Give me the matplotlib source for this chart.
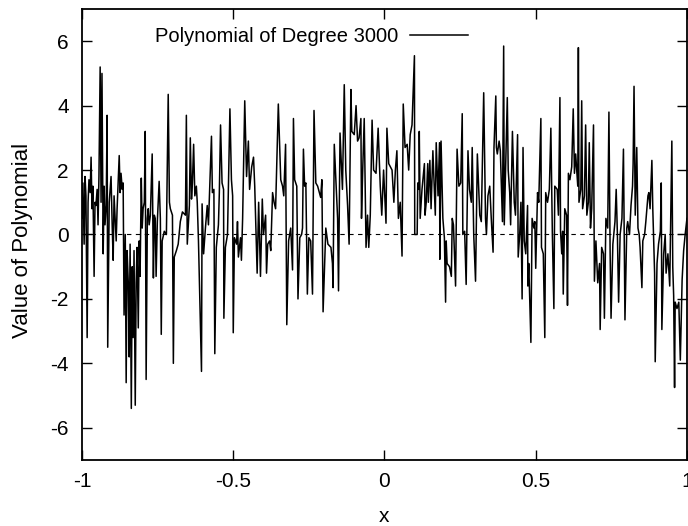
import matplotlib
matplotlib.use("Agg")
import matplotlib.pyplot as plt
import numpy as np

plt.rcParams["font.family"] = ["Liberation Sans", "DejaVu Sans"]
plt.rcParams["axes.unicode_minus"] = False

# values, left to right in six stretches
x_seg1 = [-1.000, -0.997, -0.993, -0.990, -0.987, -0.983, -0.980, -0.977, -0.973, -0.970,
          -0.967, -0.964, -0.960, -0.957, -0.954, -0.950, -0.947, -0.944, -0.940, -0.937,
          -0.934, -0.930, -0.927, -0.924, -0.920, -0.917, -0.915, -0.910, -0.904, -0.900,
          -0.897, -0.894, -0.891, -0.887, -0.884, -0.877, -0.874, -0.871, -0.867, -0.864,
          -0.861, -0.857, -0.854, -0.851, -0.847, -0.844, -0.841, -0.837, -0.834, -0.831,
          -0.828, -0.824, -0.821, -0.818, -0.814, -0.811, -0.808, -0.804, -0.801, -0.798,
          -0.794, -0.791, -0.788, -0.784, -0.781, -0.778, -0.774, -0.768, -0.764, -0.761,
          -0.758, -0.755, -0.751, -0.745, -0.741, -0.738, -0.735, -0.728, -0.721, -0.715,
          -0.711, -0.708, -0.701, -0.698, -0.695, -0.688, -0.682, -0.675, -0.668,
          -0.658, -0.655, -0.652, -0.645, -0.642]
y_seg1 = [0.5, 1.6, -0.3, 1.8, 1.2, -3.2, 1.0, 1.7, 1.3, 2.4,
          0.8, 1.5, -1.3, 1.0, 0.9, 1.4, 0.3, 1.8, 5.2, 1.0,
          5.0, -0.6, 1.5, 0.3, 0.9, 3.7, -3.5, 1.0, 1.8, 0.2,
          -0.8, 1.2, 0.6, -0.2, 0.8, 2.45, 1.3, 1.9, 1.4, 1.6,
          -2.5, 0.0, -4.6, -0.5, -1.5, -3.8, -0.3, -5.4, -1.0, -3.2,
          -0.5, -5.3, -1.5, -0.4, -2.9, -0.2, -1.3, 1.75, 0.2, 0.8,
          1.0, 3.2, -4.5, 0.5, 0.8, 0.3, 0.6, 2.5, -1.35, 0.6,
          0.5, -1.3, 0.4, 1.65, 0.5, -3.1, -0.2, 0.1, 0.0, 4.35,
          1.0, 0.8, 0.6, -4.0, -0.7, -0.5, -0.3, 0.4, 0.7,
          0.6, 3.7, -0.3, 0.9, 3.0]

x_seg2 = [-0.638, -0.635, -0.631, -0.627, -0.622, -0.619, -0.615, -0.605, -0.603, -0.598,
          -0.592, -0.586, -0.582, -0.572, -0.569, -0.564, -0.561, -0.556, -0.549, -0.546,
          -0.542, -0.537, -0.532, -0.531, -0.526, -0.519, -0.511, -0.506, -0.502, -0.500,
          -0.496, -0.489, -0.486, -0.483, -0.476, -0.473, -0.469, -0.462, -0.456, -0.450,
          -0.446, -0.439, -0.433, -0.429, -0.421, -0.416, -0.410, -0.404, -0.400, -0.393,
          -0.390, -0.386, -0.380, -0.376, -0.370, -0.365, -0.360, -0.351, -0.343, -0.337,
          -0.333, -0.327, -0.323, -0.317, -0.310]
y_seg2 = [1.1, 1.6, 2.8, 1.2, 1.5, 1.0, -0.2, -4.25, 0.95, -0.6,
          0.2, 0.9, 0.3, 3.05, 1.3, 1.4, -3.7, -0.4, 0.3, 1.3,
          3.4, 1.6, 1.4, -2.6, -0.4, 0.0, 3.9, 1.7, 1.2, -3.05,
          -0.1, -0.3, 0.4, -0.7, -0.1, -0.8, 0.5, 4.15, 1.8, 2.9,
          1.4, 2.1, 2.4, 1.5, -1.2, 1.0, -1.3, 1.1, 0.0, 0.6,
          -1.2, -0.3, -0.2, -0.5, 1.3, 1.0, 0.8, 4.05, 1.7, 1.5,
          1.2, 2.8, -2.8, -0.2, 0.2]

x_seg3 = [-0.304, -0.301, -0.297, -0.290, -0.286, -0.280, -0.274, -0.271, -0.268, -0.264,
          -0.260, -0.255, -0.250, -0.244, -0.238, -0.233, -0.227, -0.221, -0.211, -0.207,
          -0.203, -0.194, -0.187, -0.177, -0.172, -0.170, -0.166, -0.155, -0.152, -0.147,
          -0.139, -0.133, -0.128, -0.122, -0.117, -0.111, -0.108, -0.100, -0.094, -0.089,
          -0.084, -0.078, -0.076, -0.072, -0.067, -0.061, -0.056, -0.052, -0.047, -0.041,
          -0.036, -0.028, -0.021, -0.014, -0.009, -0.003, 0.005, 0.008, 0.014, 0.025,
          0.031, 0.036, 0.041, 0.046, 0.052]
y_seg3 = [-1.1, 3.6, 1.7, 1.5, -2.0, -0.1, 0.0, 0.2, 2.65, 1.5,
          1.6, -1.85, -0.1, -0.2, -1.85, 3.85, 1.6, 1.5, 1.15, 1.7,
          -2.4, 0.2, -0.3, -0.4, -0.9, -1.65, 2.8, 0.5, -1.75, 3.15,
          1.4, 4.65, 2.0, 0.9, -0.3, 4.5, 3.2, 3.1, 4.0, 2.9,
          3.0, 3.6, 0.5, 2.0, 3.6, -0.4, 0.6, -0.4, 0.6, 3.55,
          2.0, 1.9, 3.3, 1.5, 0.6, 2.0, 0.35, 3.3, 2.2, 2.0,
          1.0, 2.0, 2.6, 0.5, 1.0]

x_seg4 = [0.058, 0.062, 0.068, 0.075, 0.080, 0.085, 0.091, 0.099, 0.100, 0.108,
          0.110, 0.114, 0.115, 0.118, 0.124, 0.132, 0.134, 0.138, 0.143, 0.145,
          0.150, 0.154, 0.160, 0.164, 0.168, 0.171, 0.177, 0.182, 0.183, 0.187,
          0.193, 0.198, 0.202, 0.204, 0.207, 0.215, 0.221, 0.224, 0.228, 0.235,
          0.240, 0.246, 0.252, 0.257, 0.259, 0.265, 0.270, 0.276, 0.281, 0.287,
          0.290, 0.295, 0.301, 0.307, 0.315, 0.320, 0.328, 0.334, 0.337, 0.342,
          0.348, 0.353, 0.359, 0.362, 0.368, 0.370, 0.373, 0.379, 0.383]
y_seg4 = [-0.67, 4.05, 2.7, 2.8, 2.0, 3.1, 3.4, 5.55, 0.0, 0.0,
          1.6, 1.4, 3.2, 0.5, 1.4, 2.2, 0.6, 1.0, 2.2, 1.0,
          2.3, 0.8, 2.6, 1.6, 0.6, 2.85, 1.2, 2.85, -0.77, 2.9,
          0.5, -0.1, -2.1, -0.2, -0.9, -1.0, -1.3, 0.5, 0.3, -1.6,
          2.65, 1.5, 1.6, 3.75, 0.0, 0.1, -1.55, 2.6, 1.4, 1.0,
          2.7, 0.0, -1.45, 2.5, 0.6, 0.4, 4.4, 0.5, 0.0, 1.2,
          1.5, 0.5, -0.55, 2.7, 4.3, 2.7, 2.5, 2.9, 2.6]

x_seg5 = [0.390, 0.394, 0.396, 0.400, 0.406, 0.409, 0.414, 0.417, 0.423, 0.429,
          0.433, 0.440, 0.442, 0.447, 0.451, 0.455, 0.458, 0.462, 0.467, 0.473,
          0.474, 0.477, 0.484, 0.488, 0.494, 0.497, 0.500, 0.506, 0.510, 0.517,
          0.519, 0.525, 0.530, 0.533, 0.539, 0.545, 0.550, 0.555, 0.560, 0.563,
          0.571, 0.575, 0.580, 0.582, 0.586, 0.589, 0.591, 0.596, 0.602, 0.605,
          0.608, 0.613, 0.619, 0.624, 0.628, 0.632, 0.639, 0.641, 0.643, 0.649,
          0.652, 0.655, 0.661, 0.665, 0.669, 0.674, 0.677, 0.681, 0.685, 0.691,
          0.694, 0.699, 0.705, 0.711, 0.713, 0.718, 0.724, 0.727, 0.732, 0.738,
          0.742, 0.746, 0.749]
y_seg5 = [0.4, 5.85, 0.3, 1.9, 4.25, 2.0, 1.3, 0.3, 3.2, 1.0,
          0.6, 3.1, -0.7, 0.0, 1.0, -2.0, 2.7, -0.2, -0.6, 0.9,
          -1.6, -0.9, -3.35, 0.5, 0.2, 0.4, -1.05, 1.3, 1.0, 3.6,
          -0.4, -0.6, -3.2, 1.3, 1.0, 1.4, 3.3, 0.0, -2.3, 1.5,
          1.4, 0.6, 4.25, 0.1, -0.6, 0.1, -1.85, 0.8, 0.6, -2.2,
          1.9, 1.7, 2.1, 3.9, 1.9, 2.5, 1.5, 5.8, 1.0, 1.4,
          4.15, 0.8, 1.2, 3.4, 0.6, 1.0, 2.85, 0.2, 0.8, 3.4,
          -1.45, -0.2, -1.5, -0.9, -2.95, -0.4, -0.6, -2.6, 0.5, 0.2,
          3.8, -0.6, -2.6]

x_seg6 = [0.755, 0.762, 0.766, 0.770, 0.774, 0.779, 0.785, 0.790, 0.795, 0.801,
          0.804, 0.810, 0.815, 0.820, 0.822, 0.825, 0.829, 0.834, 0.838, 0.842,
          0.845, 0.851, 0.854, 0.860, 0.864, 0.871, 0.874, 0.878, 0.884, 0.887,
          0.893, 0.895, 0.901, 0.906, 0.912, 0.915, 0.917, 0.923, 0.928, 0.931,
          0.937, 0.943, 0.950, 0.953, 0.956, 0.959, 0.961, 0.967, 0.973, 0.978,
          0.984, 0.989, 0.994, 1.000]
y_seg6 = [-0.3, 0.4, 1.4, 0.0, -2.1, 0.0, 0.5, 2.65, -2.65, 0.2,
          0.4, 0.0, 0.9, 1.5, 2.2, 4.6, 0.6, 2.7, 0.2, 0.0,
          -0.4, -1.65, -0.2, 0.0, 0.4, 1.2, 1.3, 0.8, 2.3, 0.8,
          -1.2, -3.95, -0.9, -0.3, 0.1, 1.6, -2.95, -0.6, 0.0, -1.2,
          -0.6, -1.6, 2.9, -1.0, -1.9, -4.75, -2.1, -2.3, -2.1, -3.9,
          -1.4, -0.5, 0.0, 0.5]

x_ticks = [-1, -0.5, 0, 0.5, 1]
x_tick_labels = ["-1", "-0.5", "0", "0.5", "1"]
y_ticks = [-6, -4, -2, 0, 2, 4, 6]
series_label = "Polynomial of Degree 3000"

x = np.concatenate([x_seg1, x_seg2, x_seg3, x_seg4, x_seg5, x_seg6])
y = np.concatenate([y_seg1, y_seg2, y_seg3, y_seg4, y_seg5, y_seg6])

fig = plt.figure(figsize=(6.88, 5.26), dpi=100)
ax = fig.add_axes([0.1192, 0.1255, 0.8793, 0.8574])

ax.plot(x, y, color="black", lw=1.1, label=series_label)
ax.axhline(0, color="black", lw=0.8, ls=(0, (4, 4)))

ax.set_xlim(-1, 1)
ax.set_ylim(-7, 7)
ax.set_xticks(x_ticks)
ax.set_xticklabels(x_tick_labels)
ax.set_yticks(y_ticks)
ax.tick_params(direction="in", length=7, width=1, top=True, right=True,
               labelsize=15)
ax.tick_params(axis="x", pad=9)
ax.tick_params(axis="y", pad=9.5)
for s in ax.spines.values():
    s.set_linewidth(1.3)

ax.set_xlabel("x", fontsize=15)
ax.xaxis.set_label_coords(0.5, -0.105)
ax.set_ylabel("Value of Polynomial", fontsize=16)
ax.yaxis.set_label_coords(-0.081, 0.486)

ax.legend(loc="center left", bbox_to_anchor=(0.1207, 0.938), frameon=False,
          markerfirst=False, fontsize=14.5, handlelength=2.87,
          handletextpad=0.6, borderpad=0, borderaxespad=0)

fig.savefig("out.png", dpi=100)
